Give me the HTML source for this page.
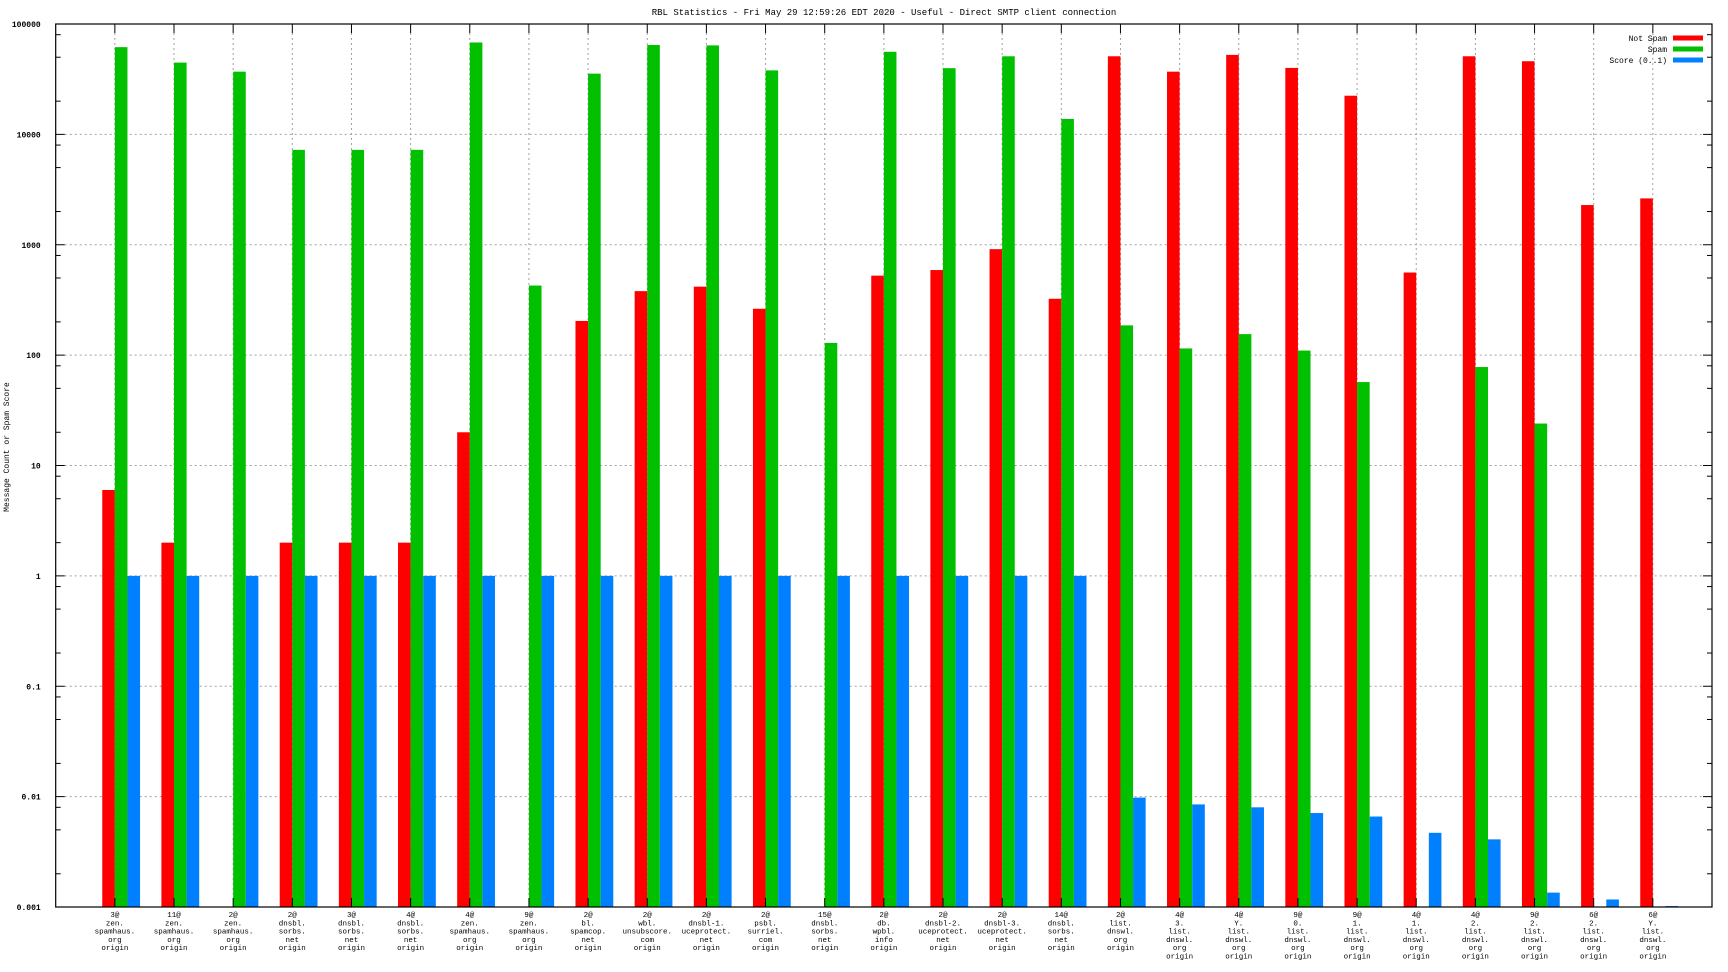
<!DOCTYPE html>
<html><head><meta charset="utf-8"><title>RBL Statistics</title>
<style>
html,body{margin:0;padding:0;background:#fff;}
svg{display:block;}
text{font-family:"Liberation Mono","DejaVu Sans Mono",monospace;fill:#000;}
</style></head>
<body>
<svg id="chart" xmlns="http://www.w3.org/2000/svg" width="1728" height="972" viewBox="0 0 1728 972">
<text x="884" y="15" font-size="9" text-anchor="middle">RBL Statistics - Fri May 29 12:59:26 EDT 2020 - Useful - Direct SMTP client connection</text>
<text transform="translate(9,447) rotate(-90)" font-size="8" text-anchor="middle">Message Count or Spam Score</text>
<g id="grid"></g>
<g id="bars"></g>
<g id="axes"></g>
<g id="legend"></g>
</svg>
<script>
const categories = [
 ["3@","zen.","spamhaus.","org","origin"],
 ["11@","zen.","spamhaus.","org","origin"],
 ["2@","zen.","spamhaus.","org","origin"],
 ["2@","dnsbl.","sorbs.","net","origin"],
 ["3@","dnsbl.","sorbs.","net","origin"],
 ["4@","dnsbl.","sorbs.","net","origin"],
 ["4@","zen.","spamhaus.","org","origin"],
 ["9@","zen.","spamhaus.","org","origin"],
 ["2@","bl.","spamcop.","net","origin"],
 ["2@","wbl.","unsubscore.","com","origin"],
 ["2@","dnsbl-1.","uceprotect.","net","origin"],
 ["2@","psbl.","surriel.","com","origin"],
 ["15@","dnsbl.","sorbs.","net","origin"],
 ["2@","db.","wpbl.","info","origin"],
 ["2@","dnsbl-2.","uceprotect.","net","origin"],
 ["2@","dnsbl-3.","uceprotect.","net","origin"],
 ["14@","dnsbl.","sorbs.","net","origin"],
 ["2@","list.","dnswl.","org","origin"],
 ["4@","3.","list.","dnswl.","org","origin"],
 ["4@","Y.","list.","dnswl.","org","origin"],
 ["9@","0.","list.","dnswl.","org","origin"],
 ["9@","1.","list.","dnswl.","org","origin"],
 ["4@","1.","list.","dnswl.","org","origin"],
 ["4@","2.","list.","dnswl.","org","origin"],
 ["9@","2.","list.","dnswl.","org","origin"],
 ["6@","2.","list.","dnswl.","org","origin"],
 ["6@","Y.","list.","dnswl.","org","origin"]
];
const notSpam = [6,2,0,2,2,2,20,0,204,380,417,263,0,525,590,912,324,51000,37000,52500,40000,22400,560,51000,46000,2290,2630];
const spam = [61700,44700,37000,7240,7240,7240,68000,427,35500,64500,64000,38000,129,56000,39800,51000,13800,186,115,155,110,57,0,78,24,0,0];
const score = [1,1,1,1,1,1,1,1,1,1,1,1,1,1,1,1,1,0.0098,0.0085,0.008,0.0071,0.0066,0.0047,0.0041,0.00135,0.00117,0.00102];
const yTickLabels = ["0.001","0.01","0.1","1","10","100","1000","10000","100000"];
const legendLabels = ["Not Spam","Spam","Score (0..1)"];

const NS="http://www.w3.org/2000/svg";
const L=55.7,R=1712,T=24,B=907;
const xMin=0,xMax=28,yMinLog=-3,yMaxLog=5;
function xs(i){return L+(i-xMin)/(xMax-xMin)*(R-L);}
function ys(v){return B-(Math.log10(v)-yMinLog)/(yMaxLog-yMinLog)*(B-T);}
const BW=(R-L)/28*0.213;
function mk(tag,attrs,parent){const e=document.createElementNS(NS,tag);for(const k in attrs)e.setAttribute(k,attrs[k]);parent.appendChild(e);return e;}
const grid=document.getElementById('grid'),bars=document.getElementById('bars'),axes=document.getElementById('axes'),legend=document.getElementById('legend');

// horizontal grid + y ticks
yTickLabels.forEach((lab,k)=>{
  const y=ys(Math.pow(10,yMinLog+k));
  if(k>0&&k<yTickLabels.length-1){
    const g=mk('line',{x1:L+9,x2:R-9,y1:y,y2:y,stroke:'#a0a0a0','stroke-width':1,'stroke-dasharray':'2,3'},grid);
    
    
  }
  const t=mk('text',{x:L-15,y:y+3,'font-size':8,'font-weight':'bold','text-anchor':'end'},axes);
  t.textContent=lab;
  
  
  mk('line',{x1:L,x2:L+9,y1:y,y2:y,stroke:'#000','stroke-width':1},axes);
  mk('line',{x1:R-9,x2:R,y1:y,y2:y,stroke:'#000','stroke-width':1},axes);
  if(k<yTickLabels.length-1){
    [2,5,8].forEach(m=>{
      const ym=ys(m*Math.pow(10,yMinLog+k));
      mk('line',{x1:L,x2:L+5,y1:ym,y2:ym,stroke:'#000','stroke-width':1},axes);
      mk('line',{x1:R-5,x2:R,y1:ym,y2:ym,stroke:'#000','stroke-width':1},axes);
    });
  }
});

// vertical grid, x ticks, labels
categories.forEach((lines,i)=>{
  const x=xs(i+1);
  const g=mk('line',{x1:x,x2:x,y1:T+9,y2:B-9,stroke:'#a0a0a0','stroke-width':1,'stroke-dasharray':'2,3'},grid);
  
  
  mk('line',{x1:x,x2:x,y1:T,y2:T+9,stroke:'#000','stroke-width':1},axes);
  mk('line',{x1:x,x2:x,y1:B-9,y2:B,stroke:'#000','stroke-width':1},axes);
  const t=mk('text',{x:x,y:917,'font-size':7.5,'text-anchor':'middle'},axes);
  
  
  lines.forEach((ln,j)=>{const s=mk('tspan',{x:x,dy:j?8.3:0},t);s.textContent=ln;});
});

// bars
const series=[[notSpam,'#ff0000',-1,'bar-not-spam'],[spam,'#00c000',0,'bar-spam'],[score,'#0080ff',1,'bar-score']];
series.forEach(([vals,col,off,nm])=>{
  vals.forEach((v,i)=>{
    if(!(v>0))return;
    const x=xs(i+1)+off*BW;
    const y=Math.max(ys(v),T);
    const r=mk('rect',{x:x,y:y,width:BW,height:B-y,fill:col},bars);
    
    
  });
});

// frame
const f=mk('rect',{x:L,y:T,width:R-L,height:B-T,fill:'none',stroke:'#000','stroke-width':1.2},axes);



// legend
const legCols=['#ff0000','#00c000','#0080ff'];
legendLabels.forEach((lab,k)=>{
  const y=38+k*11;
  const t=mk('text',{x:1667,y:y+3,'font-size':8,'text-anchor':'end'},legend);
  t.textContent=lab;
  
  
  const s=mk('rect',{x:1673,y:y-2.5,width:30,height:5,fill:legCols[k]},legend);
  
  
});
</script>
</body></html>
